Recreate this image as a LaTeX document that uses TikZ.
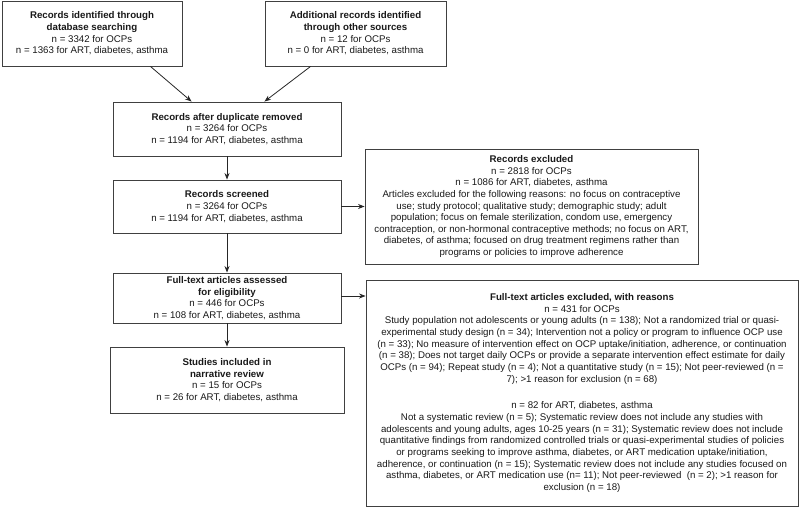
\documentclass[tikz,border=0pt]{standalone}
\usepackage{fontspec}
\setmainfont{Liberation Sans}
\usetikzlibrary{arrows.meta}
\begin{document}
\begin{tikzpicture}[x=1pt,y=1pt,
  box/.style={draw=black!75, line width=0.9pt, rectangle, inner sep=0pt, align=center,
    font=\fontsize{9.7}{11.65}\selectfont, text=black!90},
  arr/.style={draw=black!85, line width=0.8pt, -{Stealth[length=6.5pt,width=5pt]}}]
\useasboundingbox (0,0) rectangle (800,-508);
\node[box, minimum width=180, minimum height=65] (b1) at (92,-33.5)
  {\textbf{Records identified through}\\ \textbf{database searching}\\ n = 3342 for OCPs\\ n = 1363 for ART, diabetes, asthma};
\node[box, minimum width=181, minimum height=65] (b2) at (355.5,-33.5)
  {\textbf{Additional records identified}\\ \textbf{through other sources}\\ n = 12 for OCPs\\ n = 0 for ART, diabetes, asthma};
\node[box, minimum width=228, minimum height=54] (b3) at (227,-129)
  {\textbf{Records after duplicate removed}\\ n = 3264 for OCPs\\ n = 1194 for ART, diabetes, asthma};
\node[box, minimum width=228, minimum height=53] (b4) at (227,-206.5)
  {\textbf{Records screened}\\ n = 3264 for OCPs\\ n = 1194 for ART, diabetes, asthma};
\node[box, minimum width=228, minimum height=50] (b5) at (227,-298)
  {\textbf{Full-text articles assessed}\\ \textbf{for eligibility}\\ n = 446 for OCPs\\ n = 108 for ART, diabetes, asthma};
\node[box, minimum width=234, minimum height=66] (b6) at (227,-380)
  {\textbf{Studies included in}\\ \textbf{narrative review}\\ n = 15 for OCPs\\ n = 26 for ART, diabetes, asthma};
\node[box, minimum width=333, minimum height=115] (re) at (531.5,-206.5)
  {\textbf{Records excluded}\\ n = 2818 for OCPs\\ n = 1086 for ART, diabetes, asthma\\
   Articles excluded for the following reasons: no focus on contraceptive\\
   use; study protocol; qualitative study; demographic study; adult\\
   population; focus on female sterilization, condom use, emergency\\
   contraception, or non-hormonal contraceptive methods; no focus on ART,\\
   diabetes, of asthma; focused on drug treatment regimens rather than\\
   programs or policies to improve adherence};
\node[box, minimum width=432, minimum height=226] (fe) at (582,-393)
  {\textbf{Full-text articles excluded, with reasons}\\ n = 431 for OCPs\\
   Study population not adolescents or young adults (n = 138); Not a randomized trial or quasi-\\
   experimental study design (n = 34); Intervention not a policy or program to influence OCP use\\
   (n = 33); No measure of intervention effect on OCP uptake/initiation, adherence, or continuation\\
   (n = 38); Does not target daily OCPs or provide a separate intervention effect estimate for daily\\
   OCPs (n = 94); Repeat study (n = 4); Not a quantitative study (n = 15); Not peer-reviewed (n =\\
   7); >1 reason for exclusion (n = 68)\\[15pt]
   n = 82 for ART, diabetes, asthma\\
   Not a systematic review (n = 5); Systematic review does not include any studies with\\
   adolescents and young adults, ages 10-25 years (n = 31); Systematic review does not include\\
   quantitative findings from randomized controlled trials or quasi-experimental studies of policies\\
   or programs seeking to improve asthma, diabetes, or ART medication uptake/initiation,\\
   adherence, or continuation (n = 15); Systematic review does not include any studies focused on\\
   asthma, diabetes, or ART medication use (n= 11); Not peer-reviewed~~(n = 2); >1 reason for\\
   exclusion (n = 18)};
\draw[arr] ([xshift=-32pt]b1.south east) -- ([xshift=79pt]b3.north west);
\draw[arr] ([xshift=46pt]b2.south west) -- ([xshift=-77pt]b3.north east);
\draw[arr] (b3.south) -- (b4.north);
\draw[arr] (b4.south) -- (b5.north);
\draw[arr] (b5.south) -- (b6.north);
\draw[arr] (b4.east) -- (b4.east -| re.west);
\draw[arr] ([yshift=2pt]b5.east) -- ([yshift=2pt]b5.east -| fe.west);
\end{tikzpicture}
\end{document}
